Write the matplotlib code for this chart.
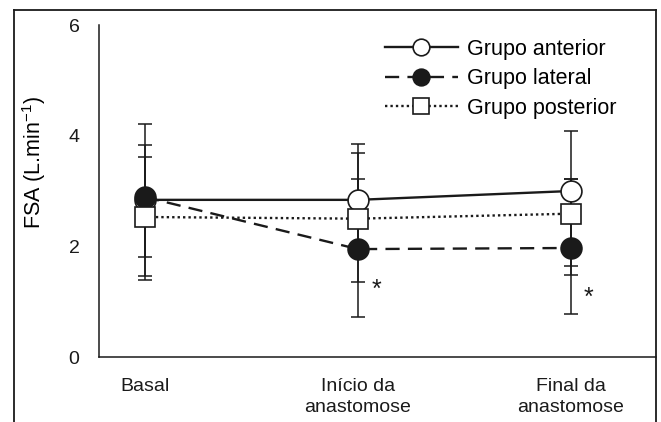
import matplotlib
matplotlib.use("Agg")
import matplotlib.pyplot as plt
from matplotlib.lines import Line2D

plt.rcParams['font.family'] = ['Liberation Sans', 'DejaVu Sans']
plt.rcParams['mathtext.fontset'] = 'custom'
plt.rcParams['mathtext.rm'] = 'Liberation Sans'
plt.rcParams['mathtext.it'] = 'Liberation Sans'

categories = ["Basal", "Início da\nanastomose", "Final da\nanastomose"]
groups = ["Grupo anterior", "Grupo lateral", "Grupo posterior"]

anterior = [2.84, 2.84, 3.00]
anterior_hi = [4.21, 3.85, 4.09]
anterior_lo = [1.46, 1.83, 1.65]

lateral = [2.89, 1.95, 1.97]
lateral_hi = [3.83, 3.22, 3.22]
lateral_lo = [1.81, 0.72, 0.78]

posterior = [2.53, 2.50, 2.59]
posterior_hi = [3.62, 3.69, 3.22]
posterior_lo = [1.39, 1.36, 1.48]

yticks = [0, 2, 4, 6]
sig_marks = [(1, 1.22), (2, 1.07)]  # (category index, y) for asterisks

FS = 14
LFS = 15.5
fig = plt.figure(figsize=(6.61, 4.22), dpi=100)
ax = fig.add_axes([99/661, 1-357/422, 557/661, 332/422])

x = list(range(len(categories)))
series = [
    (anterior, anterior_hi, anterior_lo, '-', 'o', 'white', 15),
    (lateral, lateral_hi, lateral_lo, (0, (6, 3.5)), 'o', '#1a1a1a', 15),
    (posterior, posterior_hi, posterior_lo, (0, (1, 1.3)), 's', 'white', 14.5),
]

# error bars first
for vals, hi, lo, ls, mk, fc, ms in series:
    yerr = [[v - l for v, l in zip(vals, lo)], [h - v for v, h in zip(vals, hi)]]
    ax.errorbar(x, vals, yerr=yerr, fmt='none', ecolor='#1a1a1a', elinewidth=1.1,
                capsize=5, capthick=1.1, zorder=1)
# lines
for vals, hi, lo, ls, mk, fc, ms in series:
    ax.plot(x, vals, linestyle=ls, color='#1a1a1a', lw=1.7, zorder=2)
# markers
handles = []
for i, (vals, hi, lo, ls, mk, fc, ms) in enumerate(series):
    ax.plot(x, vals, linestyle='none', marker=mk, markersize=ms, markerfacecolor=fc,
            markeredgecolor='#1a1a1a', markeredgewidth=1.2, zorder=3 + i)
    handles.append(Line2D([], [], linestyle=ls, color='#1a1a1a', lw=1.7, marker=mk,
                          markersize=ms * 0.8, markerfacecolor=fc,
                          markeredgecolor='#1a1a1a', markeredgewidth=1.2))

for xi, yv in sig_marks:
    ax.text(xi + 0.085, yv, '*', fontsize=18, ha='center', va='center', color='#1a1a1a')

ax.set_xlim(-0.216, 2.40)
ax.set_ylim(0, 6)
ax.set_yticks(yticks)
ax.set_yticklabels([str(t) for t in yticks], fontsize=FS)
ax.set_xticks(x)
ax.set_xticklabels(categories, fontsize=FS, linespacing=1.35)
ax.tick_params(axis='both', length=0, colors='#1a1a1a')
ax.tick_params(axis='y', pad=14)
ax.tick_params(axis='x', pad=15)
for s in ['top', 'right']:
    ax.spines[s].set_visible(False)
for s in ['left', 'bottom']:
    ax.spines[s].set_linewidth(1.1)
    ax.spines[s].set_color('#1a1a1a')
ax.set_ylabel('FSA (L.min$^{-1}$)', fontsize=15.5)
ax.yaxis.set_label_coords(-0.091, 0.587)

leg = ax.legend(handles, groups, loc='upper left', bbox_to_anchor=(0.513, 0.959),
                frameon=False, fontsize=LFS, handlelength=3.4, handletextpad=0.42,
                labelspacing=0.4, borderpad=0, borderaxespad=0)

# outer frame (left, top, right)
fw = 1.3
fig.add_artist(Line2D([14/661, 14/661], [0, 1-10/422], transform=fig.transFigure, color='#1a1a1a', lw=fw))
fig.add_artist(Line2D([14/661, 656/661], [1-10/422, 1-10/422], transform=fig.transFigure, color='#1a1a1a', lw=fw))
fig.add_artist(Line2D([656/661, 656/661], [0, 1-10/422], transform=fig.transFigure, color='#1a1a1a', lw=fw))

fig.savefig('out.png', dpi=100)
